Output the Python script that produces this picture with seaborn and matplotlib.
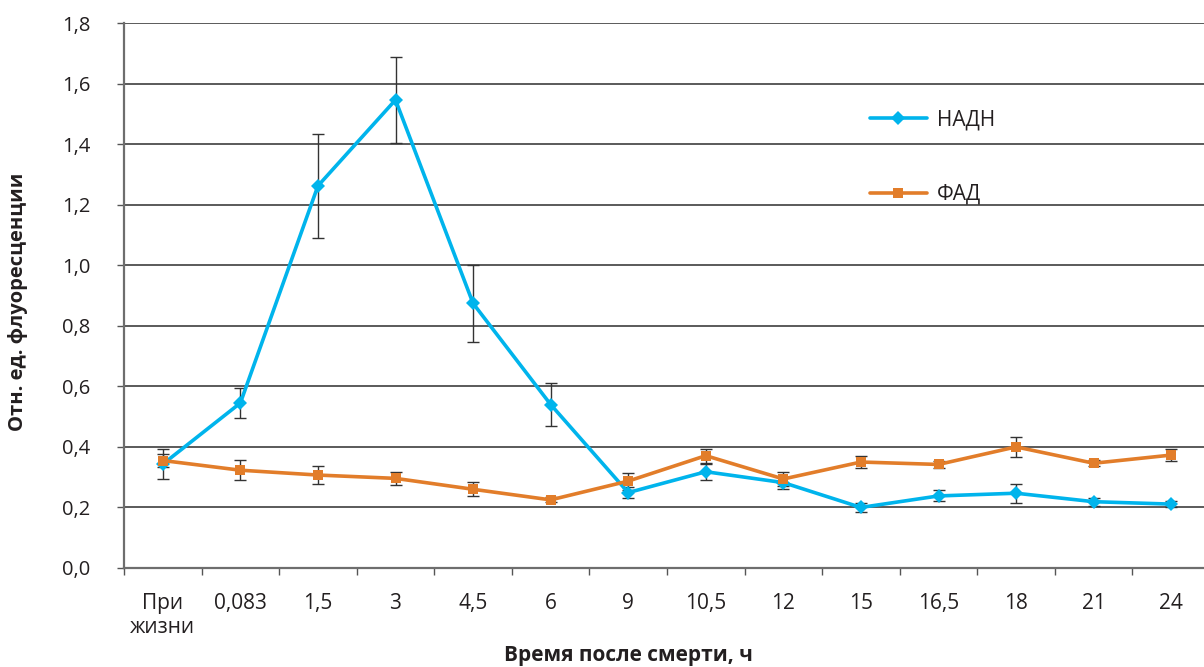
import numpy as np
import pandas as pd
import matplotlib
matplotlib.use("Agg")
import matplotlib.pyplot as plt
from matplotlib.lines import Line2D
import seaborn as sns

# Time points after death, hours
categories = ["При\nжизни", "0,083", "1,5", "3", "4,5", "6", "9", "10,5",
              "12", "15", "16,5", "18", "21", "24"]

# NADH fluorescence (relative units) and its error
nadh = [0.343, 0.545, 1.262, 1.546, 0.874, 0.540, 0.249, 0.318,
        0.282, 0.200, 0.238, 0.247, 0.219, 0.211]
nadh_err = [0.050, 0.050, 0.173, 0.143, 0.127, 0.072, 0.017, 0.027,
            0.020, 0.016, 0.018, 0.032, 0.013, 0.010]

# FAD fluorescence (relative units) and its error
fad = [0.355, 0.323, 0.307, 0.296, 0.260, 0.225, 0.287, 0.371,
       0.294, 0.350, 0.342, 0.400, 0.346, 0.373]
fad_err = [0.020, 0.034, 0.029, 0.022, 0.023, 0.008, 0.028, 0.023,
           0.024, 0.020, 0.013, 0.034, 0.010, 0.021]

y_ticks = [0.0, 0.2, 0.4, 0.6, 0.8, 1.0, 1.2, 1.4, 1.6, 1.8]

blue = "#00B4EC"
orange = "#E27D2A"
err_color = "#333333"
text_color = "#231F20"

sns.set_theme(style="white")
plt.rcParams["font.family"] = ["Open Sans", "DejaVu Sans"]

x = np.arange(len(categories))
df = pd.DataFrame({
    "x": np.concatenate([x, x]),
    "value": nadh + fad,
    "series": ["НАДН"] * len(x) + ["ФАД"] * len(x),
})

W, H = 1204, 667
fig = plt.figure(figsize=(W / 100, H / 100), dpi=100)
left_px, right_px, top_px, bottom_px = 124, 1210, 23, 568
ax = fig.add_axes([left_px / W, (H - bottom_px) / H,
                   (right_px - left_px) / W, (bottom_px - top_px) / H])

# grid lines behind everything
for yt in y_ticks[1:]:
    ax.axhline(yt, color="#2e2e2e", lw=1.1, zorder=0)

# error bars
ax.errorbar(x, nadh, yerr=nadh_err, fmt="none", ecolor=err_color,
            elinewidth=1.0, capsize=4.5, capthick=1.0, zorder=2)
ax.errorbar(x, fad, yerr=fad_err, fmt="none", ecolor=err_color,
            elinewidth=1.0, capsize=4.5, capthick=1.0, zorder=2)

sns.lineplot(data=df, x="x", y="value", hue="series", style="series",
             palette={"НАДН": blue, "ФАД": orange},
             markers={"НАДН": "D", "ФАД": "s"}, dashes=False,
             linewidth=2.6, markersize=7, markeredgewidth=0,
             legend=False, ax=ax, zorder=3)

ax.set_xlabel("")
ax.set_ylabel("")
ax.set_xlim(-0.5, len(categories) - 0.5)
ax.set_ylim(0, 1.8)

ax.set_yticks(y_ticks)
ax.set_yticklabels([f"{v:.1f}".replace(".", ",") for v in y_ticks])
ax.set_xticks(x)
ax.set_xticklabels(categories, linespacing=1.2)
ax.set_xticks(np.arange(len(categories) + 1) - 0.5, minor=True)

ax.tick_params(axis="y", which="major", left=True, length=5, width=1.0,
               color="#555555", labelsize=14.5, labelcolor=text_color, pad=19)
ax.tick_params(axis="x", which="major", bottom=False, labelsize=15,
               labelcolor=text_color, pad=12)
ax.tick_params(axis="x", which="minor", bottom=True, length=5, width=1.0,
               color="#555555")

for side in ("top", "right"):
    ax.spines[side].set_visible(False)
for side in ("left", "bottom"):
    ax.spines[side].set_color("#6e6e6e")
    ax.spines[side].set_linewidth(1.6)

fig.text(628 / W, 1 / H, "Время после смерти, ч", fontsize=15,
         fontweight="bold", color=text_color, ha="center", va="bottom")
fig.text(18 / W, 1 - 302 / H, "Отн. ед. флуоресценции", fontsize=14.5,
         fontweight="bold", color=text_color, ha="center", va="center",
         rotation=90)

handles = [
    Line2D([], [], color=blue, lw=2.6, marker="D", markersize=7, markeredgewidth=0),
    Line2D([], [], color=orange, lw=2.6, marker="s", markersize=7, markeredgewidth=0),
]
ax.legend(handles, ["НАДН", "ФАД"], loc="upper left",
          bbox_to_anchor=(851 / W, (H - 91) / H), bbox_transform=fig.transFigure,
          frameon=False, fontsize=15, handlelength=2.75, handletextpad=0.48,
          labelspacing=2.55, labelcolor=text_color)

fig.savefig("out.png", dpi=100)
